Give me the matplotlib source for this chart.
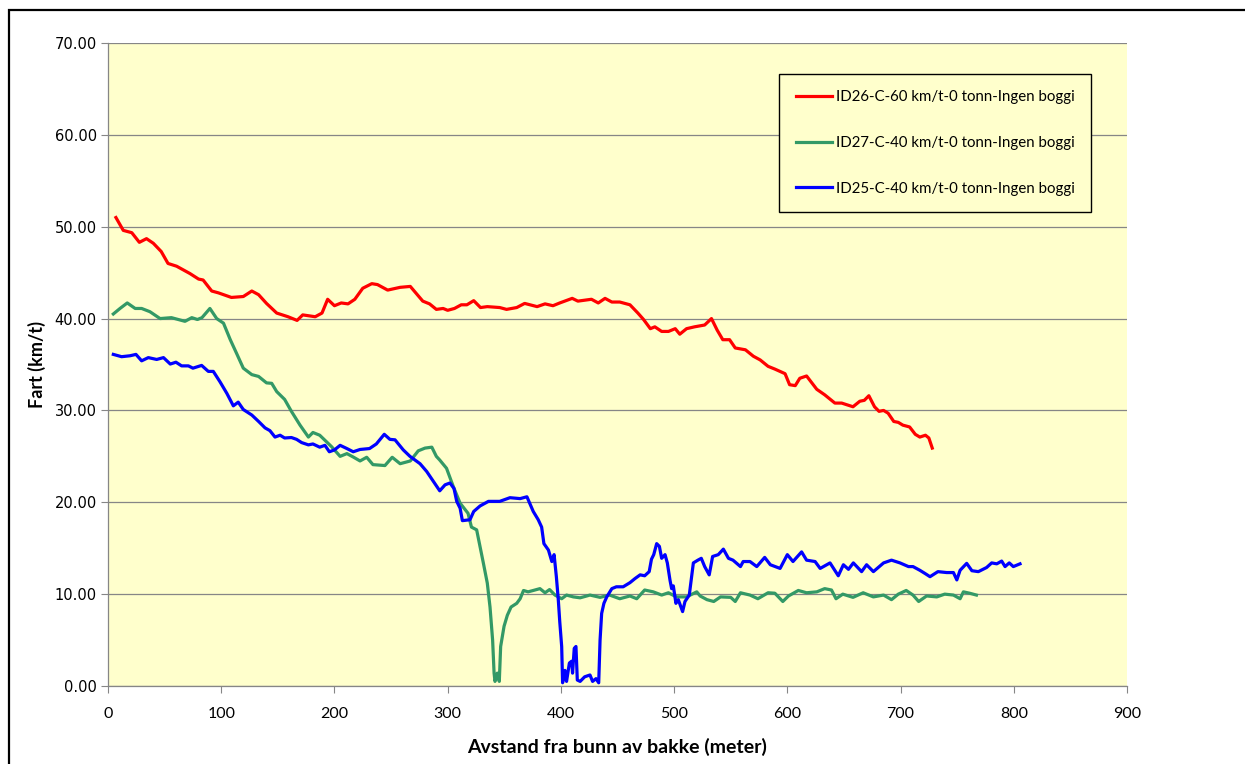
import matplotlib
matplotlib.use("Agg")
from matplotlib import pyplot as plt
from matplotlib.patches import Rectangle

# ID26 - red
id26_x = [7, 13.5, 21, 27.7, 34, 40, 47, 53, 60.6, 66.5,
          72.4, 80, 84, 91.6, 97.5, 109, 119.5, 127, 133, 140,
          149, 159, 167, 172, 183, 189, 194, 200, 206, 212,
          218, 225, 233, 238, 247, 258, 267, 278, 284, 290,
          296, 300, 306, 312, 317, 323, 329, 335, 346, 352,
          361, 368, 379, 386, 393, 399, 410, 415, 427, 433,
          439, 445, 452, 461, 468, 473, 479, 483, 489, 495,
          501, 505, 511, 518, 527, 533, 538, 543, 549, 554,
          563, 570, 576, 583, 589, 598, 602, 607, 611, 617,
          626, 633, 642, 648, 658, 664, 668, 672, 677, 681,
          685, 689, 694, 698, 702, 708, 713, 717, 722, 725,
          728]
id26_y = [51.0, 49.6, 49.35, 48.3, 48.7, 48.2, 47.3, 46.0, 45.7, 45.3,
          44.9, 44.3, 44.2, 43.0, 42.8, 42.3, 42.4, 43.0, 42.6, 41.65,
          40.6, 40.2, 39.8, 40.4, 40.2, 40.6, 42.1, 41.4, 41.7, 41.6,
          42.1, 43.3, 43.8, 43.7, 43.1, 43.4, 43.5, 41.9, 41.6, 41.0,
          41.1, 40.9, 41.1, 41.5, 41.5, 41.95, 41.2, 41.3, 41.2, 41.0,
          41.2, 41.65, 41.3, 41.6, 41.4, 41.7, 42.2, 41.9, 42.1, 41.7,
          42.2, 41.8, 41.8, 41.5, 40.6, 39.9, 38.9, 39.1, 38.6, 38.6,
          38.9, 38.3, 38.9, 39.1, 39.3, 40.0, 38.75, 37.7, 37.7, 36.8,
          36.6, 35.9, 35.5, 34.8, 34.5, 34.0, 32.8, 32.7, 33.5, 33.75,
          32.3, 31.7, 30.8, 30.8, 30.4, 31.0, 31.1, 31.6, 30.4, 29.9,
          30.0, 29.7, 28.8, 28.7, 28.4, 28.2, 27.4, 27.1, 27.3, 27.0,
          25.9]

# ID27 - green
id27_x = [4.7, 10.6, 17, 24, 29.7, 37, 46, 56, 68, 74,
          79, 83, 90, 96, 102, 108, 113.6, 119.5, 127, 133,
          140, 144.6, 149, 156, 162, 169.6, 177, 181, 187, 197.5,
          205, 211, 217, 222.6, 228.5, 234, 244.6, 251, 258, 267,
          274, 280, 286, 290, 293, 299, 305, 311, 318, 321,
          325.6, 331.5, 335, 337.4, 339.7, 341, 341.8, 343.8, 345.6, 346.8,
          349.8, 352.7, 356, 361, 364, 367, 371, 375.6, 381.5, 386,
          390, 394.8, 400.7, 405, 411, 417, 425.7, 434.6, 443, 452,
          461, 467, 474, 481.6, 489, 495, 502, 511, 520, 523,
          529, 535, 541, 550, 554, 558.6, 567, 574, 583, 589,
          596, 601, 609.7, 617, 626, 633, 639, 643, 649, 658,
          667, 676, 685, 692, 698, 705, 711, 716, 723, 732,
          739, 746.7, 752.6, 755.5, 761, 767]
id27_y = [40.5, 41.1, 41.7, 41.1, 41.1, 40.75, 40.0, 40.1, 39.7, 40.1,
          39.9, 40.1, 41.1, 40.0, 39.5, 37.7, 36.2, 34.6, 33.9, 33.7,
          33.0, 32.95, 32.05, 31.2, 29.9, 28.4, 27.1, 27.6, 27.3, 26.05,
          25.0, 25.3, 24.9, 24.5, 24.9, 24.1, 24.0, 24.9, 24.2, 24.5,
          25.6, 25.9, 26.0, 25.0, 24.6, 23.7, 21.7, 19.9, 18.8, 17.3,
          17.0, 13.4, 11.2, 8.6, 5.0, 1.4, 0.5, 1.4, 0.5, 4.3,
          6.5, 7.7, 8.6, 9.0, 9.5, 10.4, 10.25, 10.4, 10.6, 10.15,
          10.5, 9.9, 9.5, 9.9, 9.7, 9.6, 9.9, 9.65, 9.9, 9.5,
          9.8, 9.5, 10.45, 10.25, 9.9, 10.15, 9.7, 9.7, 10.25, 9.8,
          9.4, 9.2, 9.7, 9.65, 9.2, 10.15, 9.9, 9.5, 10.15, 10.1,
          9.2, 9.8, 10.4, 10.15, 10.25, 10.6, 10.45, 9.5, 10.0, 9.65,
          10.15, 9.7, 9.9, 9.4, 10.0, 10.4, 9.9, 9.2, 9.8, 9.7,
          10.0, 9.9, 9.5, 10.25, 10.1, 9.9]

# ID25 - blue
id25_x = [4.7, 12, 19.4, 24.7, 29.7, 35.6, 43, 49, 55, 60,
          65, 71, 75, 82.7, 88.6, 93, 99, 105, 110.7, 115,
          119.5, 127, 133, 138.7, 143, 147.5, 152, 156, 162, 166.6,
          171, 177, 181, 187, 191.6, 195.5, 200, 205, 211, 216.6,
          222.6, 231, 237, 244, 249, 253.5, 260.8, 266.7, 275.6, 281.5,
          287.3, 293, 297.7, 302, 305.6, 308, 311, 313, 319.7, 323,
          328.6, 336, 346, 355, 364, 370, 375.6, 380, 383, 385,
          389, 392, 394, 396, 397.7, 399, 400.7, 401.5, 403.6, 405,
          407.5, 409.5, 410.3, 411.8, 413.3, 414.5, 417, 421, 425.7, 428,
          431, 433.4, 434.6, 436, 438, 440.5, 445, 449, 455, 461,
          465.5, 470, 474, 478, 480, 482, 484.6, 487, 489, 492,
          494, 496.4, 497.8, 499.3, 501.6, 503.7, 507.5, 509.6, 513.4, 517,
          521, 524, 527, 531, 534, 539, 543.5, 548, 552, 558.6,
          561, 567, 573, 580, 585, 593.6, 600, 605, 612.6, 617,
          624.5, 629, 637.7, 645, 649.5, 654, 658.3, 665.6, 670, 676,
          685, 692, 699.5, 707, 711, 717, 721.6, 726, 733, 740.7,
          746.7, 749.7, 752.6, 758.4, 763, 768.7, 776, 780.5, 785, 789.3,
          792.3, 796, 799.6, 805.5]
id25_y = [36.1, 35.85, 35.95, 36.1, 35.4, 35.75, 35.55, 35.75, 35.05, 35.25,
          34.85, 34.85, 34.6, 34.9, 34.25, 34.25, 33.1, 31.85, 30.5, 30.9,
          30.1, 29.5, 28.8, 28.1, 27.8, 27.1, 27.3, 27.0, 27.05, 26.85,
          26.5, 26.25, 26.35, 26.0, 26.2, 25.5, 25.7, 26.2, 25.85, 25.5,
          25.75, 25.85, 26.35, 27.4, 26.85, 26.8, 25.7, 25.0, 24.2, 23.35,
          22.3, 21.25, 21.9, 22.1, 21.5, 20.1, 19.35, 18.0, 18.1, 19.0,
          19.6, 20.1, 20.1, 20.5, 20.4, 20.6, 19.0, 18.1, 17.3, 15.5,
          14.8, 13.55, 14.3, 11.9, 9.4, 7.0, 4.3, 0.35, 1.7, 0.5,
          2.5, 2.7, 1.4, 4.1, 4.3, 0.65, 0.5, 1.0, 1.2, 0.5,
          0.8, 0.35, 5.0, 7.9, 9.0, 9.7, 10.6, 10.8, 10.8, 11.25,
          11.7, 12.1, 12.0, 12.45, 13.8, 14.3, 15.5, 15.2, 13.9, 14.3,
          13.4, 11.5, 10.6, 10.9, 9.0, 9.4, 8.1, 9.2, 9.9, 13.4,
          13.7, 13.9, 13.0, 12.1, 14.1, 14.3, 14.9, 13.9, 13.7, 13.0,
          13.55, 13.55, 13.0, 14.0, 13.2, 12.8, 14.3, 13.55, 14.6, 13.7,
          13.55, 12.8, 13.4, 12.0, 13.2, 12.7, 13.4, 12.45, 13.2, 12.45,
          13.4, 13.7, 13.4, 13.0, 13.0, 12.6, 12.25, 11.9, 12.45, 12.35,
          12.35, 11.55, 12.6, 13.35, 12.55, 12.45, 12.9, 13.4, 13.3, 13.6,
          13.0, 13.4, 13.0, 13.3]

labels = ["ID26-C-60 km/t-0 tonn-Ingen boggi",
          "ID27-C-40 km/t-0 tonn-Ingen boggi",
          "ID25-C-40 km/t-0 tonn-Ingen boggi"]

plt.rcParams['font.family'] = ['Lato', 'DejaVu Sans']

fig = plt.figure(figsize=(12.45, 7.64), dpi=100)
ax = fig.add_axes([108 / 1245, 78 / 764, 1019 / 1245, 643 / 764])
ax.set_facecolor('#FFFFCC')

ax.plot(id26_x, id26_y, color='#FF0000', lw=2.3, label=labels[0], solid_joinstyle='round')
ax.plot(id27_x, id27_y, color='#339966', lw=2.3, label=labels[1], solid_joinstyle='round')
ax.plot(id25_x, id25_y, color='#0000FF', lw=2.3, label=labels[2], solid_joinstyle='round')

ax.set_xlim(0, 900)
ax.set_ylim(0, 70)
ax.set_xticks(range(0, 901, 100))
ax.set_yticks(range(0, 71, 10))
ax.set_yticklabels(['%.2f' % v for v in range(0, 71, 10)], fontfamily='DejaVu Sans', fontsize=10.5)
ax.tick_params(axis='x', labelsize=11.5, length=5, color='#868686', pad=10)
ax.tick_params(axis='y', length=5, color='#868686', pad=3)
ax.yaxis.grid(True, color='#868686', lw=0.9)
ax.set_axisbelow(True)
for s in ['top', 'right']:
    ax.spines[s].set_visible(False)
for s in ['left', 'bottom']:
    ax.spines[s].set_color('#868686')
    ax.spines[s].set_linewidth(0.9)

ax.set_xlabel('Avstand fra bunn av bakke (meter)', fontsize=14, fontweight='bold', labelpad=12)
ax.set_ylabel('Fart (km/t)', fontsize=13, fontweight='bold', labelpad=6)

leg = ax.legend(loc='upper left', bbox_to_anchor=(779 / 1245, 1 - 74 / 764),
                bbox_transform=fig.transFigure, fontsize=10.8, frameon=True,
                fancybox=False, framealpha=1, facecolor='#FFFFCC', edgecolor='black',
                handlelength=2.4, handletextpad=0.3, labelspacing=2.1, borderpad=1.1,
                borderaxespad=0)
leg.get_frame().set_linewidth(1.0)

# outer chart frame
fig.patches.append(Rectangle((9 / 1245, -0.05), 1.1, 1 - 10 / 764 + 0.05, fill=False,
                             edgecolor='black', lw=1.6, transform=fig.transFigure, clip_on=False))

plt.savefig('out.png', dpi=100)
